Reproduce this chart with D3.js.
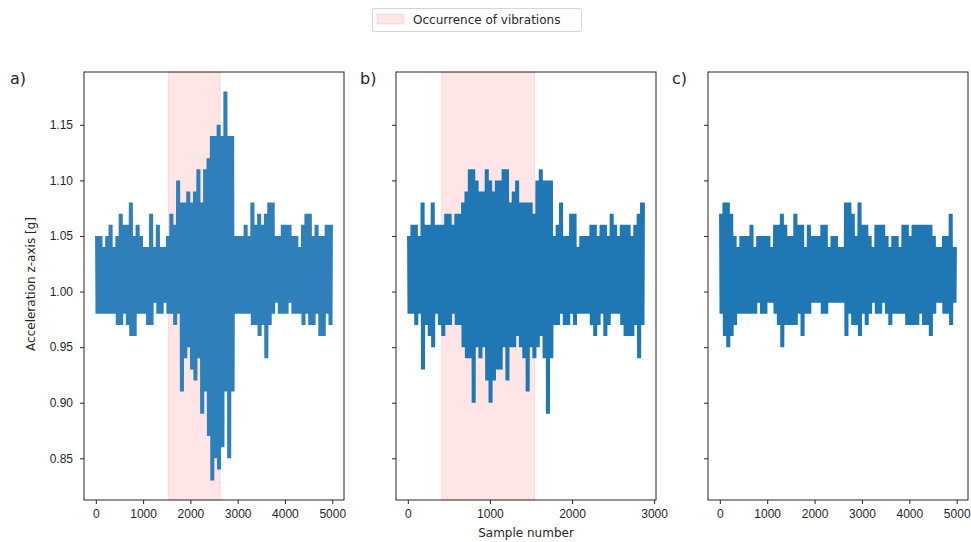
<!DOCTYPE html>
<html>
<head>
    <meta charset="utf-8">
    <title>Acceleration z-axis</title>
    <script src="https://d3js.org/d3.v7.min.js"></script>
    <style>
        body { margin: 0; background: #fff; }
        svg { font-family: "DejaVu Sans", sans-serif; }
        .tick text { font-size: 12px; fill: #262626; }
        .tick line { stroke: #262626; }
        .domain { display: none; }
    </style>
</head>
<body>
    <div id="chart"></div>
    <script>
        // envelope of each recording in 70 equal bins (max / min per bin)
        const aHi = [1.05,1.05,1.04,1.05,1.06,1.04,1.05,1.07,1.06,1.06,1.08,1.05,1.06,1.05,1.04,1.04,1.07,1.04,1.06,1.04,
                     1.04,1.05,1.07,1.06,1.10,1.08,1.08,1.09,1.08,1.09,1.11,1.08,1.11,1.12,1.14,1.14,1.15,1.14,1.18,1.14,
                     1.14,1.05,1.05,1.05,1.06,1.05,1.08,1.06,1.07,1.06,1.07,1.08,1.08,1.05,1.05,1.06,1.06,1.06,1.05,1.05,
                     1.04,1.06,1.07,1.07,1.05,1.06,1.05,1.05,1.06,1.06];
        const aLo = [0.98,0.98,0.98,0.98,0.98,0.98,0.97,0.97,0.98,0.97,0.96,0.96,0.98,0.98,0.98,0.97,0.97,0.99,0.98,0.98,
                     0.99,0.98,0.98,0.97,0.98,0.91,0.94,0.95,0.93,0.92,0.94,0.89,0.91,0.87,0.83,0.85,0.84,0.86,0.91,0.85,
                     0.91,0.98,0.98,0.98,0.98,0.98,0.97,0.97,0.96,0.97,0.94,0.97,0.98,0.99,0.98,0.98,0.98,0.99,0.98,0.98,
                     0.98,0.97,0.98,0.97,0.97,0.98,0.96,0.96,0.98,0.97];
        const bHi = [1.05,1.06,1.06,1.05,1.08,1.06,1.06,1.08,1.06,1.06,1.06,1.07,1.07,1.06,1.07,1.07,1.08,1.09,1.11,1.11,
                     1.10,1.09,1.09,1.11,1.10,1.09,1.10,1.10,1.11,1.11,1.08,1.09,1.10,1.08,1.08,1.08,1.08,1.07,1.10,1.11,
                     1.10,1.10,1.10,1.05,1.06,1.08,1.05,1.05,1.07,1.07,1.04,1.05,1.05,1.05,1.06,1.06,1.05,1.06,1.06,1.05,
                     1.07,1.06,1.05,1.06,1.06,1.06,1.05,1.06,1.07,1.08];
        const bLo = [0.98,0.98,0.97,0.98,0.93,0.97,0.96,0.95,0.98,0.97,0.96,0.97,0.97,0.98,0.97,0.97,0.95,0.94,0.94,0.90,
                     0.95,0.94,0.95,0.92,0.90,0.92,0.93,0.93,0.95,0.92,0.95,0.95,0.96,0.95,0.94,0.91,0.95,0.94,0.95,0.96,
                     0.94,0.89,0.94,0.97,0.97,0.98,0.97,0.97,0.98,0.97,0.98,0.98,0.98,0.98,0.97,0.96,0.97,0.98,0.96,0.97,
                     0.98,0.98,0.98,0.97,0.96,0.96,0.96,0.97,0.94,0.97];
        const cHi = [1.07,1.08,1.08,1.07,1.05,1.04,1.05,1.05,1.05,1.06,1.04,1.05,1.05,1.05,1.05,1.04,1.06,1.06,1.07,1.06,
                     1.05,1.05,1.07,1.06,1.06,1.04,1.06,1.05,1.05,1.05,1.06,1.06,1.04,1.05,1.05,1.04,1.04,1.08,1.08,1.07,
                     1.05,1.08,1.06,1.06,1.05,1.04,1.06,1.06,1.06,1.05,1.04,1.05,1.05,1.04,1.06,1.06,1.05,1.06,1.06,1.06,
                     1.06,1.06,1.06,1.05,1.04,1.04,1.05,1.05,1.07,1.04];
        const cLo = [0.98,0.96,0.95,0.96,0.97,0.98,0.98,0.98,0.98,0.98,0.98,0.99,0.98,0.98,0.99,0.99,0.98,0.97,0.95,0.97,
                     0.97,0.97,0.97,0.98,0.96,0.98,0.98,0.99,0.99,0.99,0.98,0.98,0.99,0.99,0.99,0.99,0.99,0.96,0.98,0.97,
                     0.97,0.96,0.98,0.97,0.98,0.99,0.98,0.98,0.99,0.98,0.97,0.98,0.98,0.98,0.98,0.97,0.97,0.97,0.97,0.98,
                     0.97,0.97,0.96,0.98,0.99,0.99,0.98,0.98,0.97,0.99];

        const panelNames = ["a)", "b)", "c)"];
        const sampleCounts = [5000, 2880, 4990];
        const vibrationSpans = [[1535, 2632], [412, 1543], null];
        const xTicks = [[0, 1000, 2000, 3000, 4000, 5000], [0, 1000, 2000, 3000], [0, 1000, 2000, 3000, 4000, 5000]];
        const yTicks = [0.85, 0.90, 0.95, 1.00, 1.05, 1.10, 1.15];

        const panels = [
            { hi: aHi, lo: aLo, color: "#2f80ba" },
            { hi: bHi, lo: bLo, color: "#1f77b4" },
            { hi: cHi, lo: cLo, color: "#1f77b4" }
        ];

        const width = 971, height = 542;
        const axLeft = [84, 396, 708], axW = 260, axTop = 72, axBottom = 500;

        const svg = d3.select("#chart").append("svg")
            .attr("width", width)
            .attr("height", height);

        // shared y scale (matplotlib style 5% margins around 0.83..1.18)
        const y = d3.scaleLinear().domain([0.8125, 1.1975]).range([axBottom, axTop]);

        panels.forEach(function(p, i) {
            const n = sampleCounts[i];
            const pad = n * 0.05;
            const x = d3.scaleLinear().domain([-pad, n - 1 + pad]).range([axLeft[i], axLeft[i] + axW]);
            const g = svg.append("g");

            // vibration window
            if (vibrationSpans[i]) {
                g.append("rect")
                    .attr("x", x(vibrationSpans[i][0]))
                    .attr("y", axTop)
                    .attr("width", x(vibrationSpans[i][1]) - x(vibrationSpans[i][0]))
                    .attr("height", axBottom - axTop)
                    .attr("fill", "red").attr("fill-opacity", 0.1)
                    .attr("stroke", "red").attr("stroke-opacity", 0.1);
            }

            // signal: run max/min of every bin back and forth so the band fills like the raw trace
            const bins = p.hi.length;
            const w = (n - 1) / bins;
            const steps = 8;
            const pts = [];
            for (let k = 0; k < bins; k++) {
                for (let j = 0; j < steps; j++) {
                    pts.push([k * w + j * w / steps, j % 2 === 0 ? p.hi[k] : p.lo[k]]);
                }
            }
            pts.push([n - 1, p.hi[bins - 1]]);

            const line = d3.line()
                .x(function(d) { return x(d[0]); })
                .y(function(d) { return y(d[1]); });

            g.append("path")
                .datum(pts)
                .attr("d", line)
                .attr("fill", "none")
                .attr("stroke", p.color)
                .attr("stroke-width", 1.5)
                .attr("stroke-linejoin", "bevel");

            // axes
            g.append("g")
                .attr("transform", "translate(0," + axBottom + ")")
                .call(d3.axisBottom(x).tickValues(xTicks[i]).tickFormat(d3.format("d")).tickSizeInner(4).tickSizeOuter(0).tickPadding(5));

            g.append("g")
                .attr("transform", "translate(" + axLeft[i] + ",0)")
                .call(d3.axisLeft(y).tickValues(yTicks)
                    .tickFormat(i === 0 ? d3.format(".2f") : function() { return ""; })
                    .tickSizeInner(4).tickSizeOuter(0).tickPadding(7));

            // frame
            g.append("rect")
                .attr("x", axLeft[i]).attr("y", axTop)
                .attr("width", axW).attr("height", axBottom - axTop)
                .attr("fill", "none").attr("stroke", "#262626").attr("stroke-width", 1);

            // panel letter
            svg.append("text")
                .attr("x", axLeft[i] - (i === 0 ? 74 : 36))
                .attr("y", 84)
                .attr("font-size", "16px")
                .attr("fill", "#262626")
                .text(panelNames[i]);
        });

        // axis titles
        svg.append("text")
            .attr("transform", "translate(35,284) rotate(-90)")
            .attr("text-anchor", "middle")
            .attr("font-size", "12px")
            .attr("fill", "#262626")
            .text("Acceleration z-axis [g]");

        svg.append("text")
            .attr("x", axLeft[1] + axW / 2)
            .attr("y", 537)
            .attr("text-anchor", "middle")
            .attr("font-size", "12px")
            .attr("fill", "#262626")
            .text("Sample number");

        // legend
        const legend = svg.append("g");
        legend.append("rect")
            .attr("x", 372.5).attr("y", 8.5)
            .attr("width", 209).attr("height", 23)
            .attr("rx", 2)
            .attr("fill", "#fff").attr("stroke", "#d5d5d5");
        legend.append("rect")
            .attr("x", 377).attr("y", 14)
            .attr("width", 27).attr("height", 10)
            .attr("fill", "red").attr("fill-opacity", 0.1)
            .attr("stroke", "red").attr("stroke-opacity", 0.1);
        legend.append("text")
            .attr("x", 413).attr("y", 23.5)
            .attr("font-size", "12px")
            .attr("fill", "#262626")
            .text("Occurrence of vibrations");
    </script>
</body>
</html>
